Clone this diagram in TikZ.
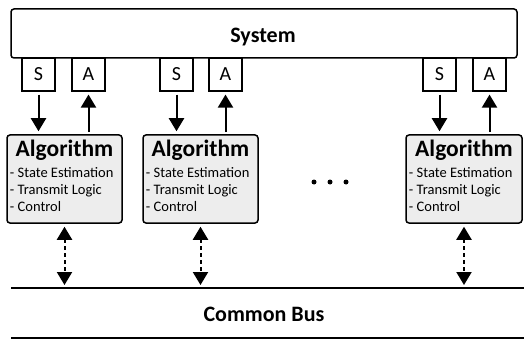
\documentclass[tikz,border=0pt]{standalone}
\usepackage{fontspec}
\setmainfont{Carlito}
\usetikzlibrary{arrows.meta}
\begin{document}
\begin{tikzpicture}[x=1pt,y=-1pt,
  box/.style={draw,line width=1.5pt,rounded corners=3pt,inner sep=0pt},
  port/.style={draw,line width=1.2pt,inner sep=0pt,minimum width=33pt,minimum height=33pt,font=\fontsize{20}{20}\selectfont},
  algbox/.style={box,fill=black!7,minimum width=115pt,minimum height=88pt},
  title/.style={anchor=base,font=\bfseries\fontsize{22}{22}\selectfont,inner sep=0pt},
  algtitle/.style={title,font=\bfseries\fontsize{23.5}{23.5}\selectfont},
  items/.style={anchor=base west,inner sep=0pt,font=\fontsize{14.5}{17}\selectfont},
  arr/.style={line width=2pt,-{Triangle[width=15pt,length=13pt]}},
  darr/.style={line width=2pt,dash pattern=on 4pt off 3pt,{Triangle[width=15pt,length=13pt]}-{Triangle[width=15pt,length=13pt]}},
  busline/.style={line width=1.8pt}
]
\useasboundingbox (0,0) rectangle (524,339);
% system
\node[box,minimum width=506pt,minimum height=49pt] (sys) at (264,33.5) {};
\node[title] (systxt) at (263,43) {System};
% ports
\node[port] (s1) at (38.5,74.5) {S};
\node[port] (a1) at (88.5,74.5) {A};
\node[port] (s2) at (176.5,74.5) {S};
\node[port] (a2) at (225.5,74.5) {A};
\node[port] (s3) at (439.5,74.5) {S};
\node[port] (a3) at (489.5,74.5) {A};
% algorithm boxes
\node[algbox] (alg1) at (64.5,179) {};
\node[algbox] (alg2) at (200.5,179) {};
\node[algbox,minimum width=116pt] (alg3) at (464,179) {};
\foreach \b in {1,2,3}{
  \node[algtitle] (t\b) at ([yshift=-22pt]alg\b.north) {Algorithm};
  \node[items] (ia\b) at ([xshift=3.5pt,yshift=-43pt]alg\b.north west) {- State Estimation};
  \node[items] (ib\b) at ([xshift=3.5pt,yshift=-60pt]alg\b.north west) {- Transmit Logic};
  \node[items] (ic\b) at ([xshift=3.5pt,yshift=-77pt]alg\b.north west) {- Control};
}
% arrows
\foreach \n in {1,2,3}{
  \draw[arr,shorten <=3pt,shorten >=3pt] (s\n.south) -- (s\n.south |- alg\n.north);
  \draw[arr,shorten <=2pt,shorten >=3pt] (a\n.south |- alg\n.north) -- (a\n.south);
}
% dots
\fill (314,182) circle (2.5) (330,182) circle (2.5) (346,182) circle (2.5);
% bus
\coordinate (bt1) at (11,288);
\coordinate (bt2) at (524,288);
\coordinate (bb1) at (11,338);
\coordinate (bb2) at (524,338);
\draw[busline] (bt1) -- (bt2);
\draw[busline] (bb1) -- (bb2);
\node[title] (bus) at (264,321) {Common Bus};
\foreach \n in {1,2,3}{
  \draw[darr,shorten <=3pt,shorten >=3pt] (alg\n.south) -- (alg\n.south |- bt1);
}
\end{tikzpicture}
\end{document}
